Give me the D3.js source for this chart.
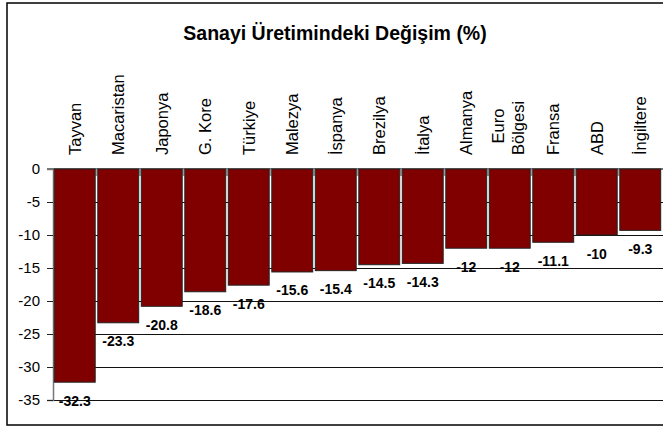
<!DOCTYPE html>
<html><head><meta charset="utf-8">
<script src="https://cdn.jsdelivr.net/npm/d3@7/dist/d3.min.js"></script>
<style>html,body{margin:0;padding:0;background:#fff;}svg{display:block;}</style>
</head><body>
<script>
const categories = ["Tayvan","Macaristan","Japonya","G. Kore","Türkiye","Malezya","İspanya","Brezilya","İtalya","Almanya","Euro Bölgesi","Fransa","ABD","İngiltere"];
const values = [-32.3,-23.3,-20.8,-18.6,-17.6,-15.6,-15.4,-14.5,-14.3,-12,-12,-11.1,-10,-9.3];
const yTicks = [0,-5,-10,-15,-20,-25,-30,-35];
const title = "Sanayi Üretimindeki Değişim (%)";

const W = 663, H = 427;
const svg = d3.select("body").append("svg").attr("width", W).attr("height", H);
const font = "'Liberation Sans', Arial, sans-serif";

svg.append("rect").attr("x", 7).attr("y", 3).attr("width", 670).attr("height", 422)
  .attr("fill", "#fff").attr("stroke", "#000").attr("stroke-width", 1.5);

svg.append("text").attr("x", 335).attr("y", 40).attr("text-anchor", "middle")
  .attr("font-family", font).attr("font-weight", "bold").attr("font-size", 19.5)
  .attr("fill", "#000").text(title);

const x = d3.scaleBand().domain(categories).range([53, 662]).paddingInner(0.06).paddingOuter(0.03);
const y = d3.scaleLinear().domain([-35, 0]).range([400, 169]);

// gridlines
svg.append("g").selectAll("line").data(yTicks.filter(d => d !== 0)).join("line")
  .attr("x1", 53).attr("x2", 663).attr("y1", d => y(d)).attr("y2", d => y(d))
  .attr("stroke", "#111").attr("stroke-width", 1).attr("shape-rendering", "crispEdges");

// y axis
const yAxis = d3.axisLeft(y).tickValues(yTicks).tickSize(6).tickPadding(7).tickFormat(d => String(d));
const ga = svg.append("g").attr("transform", "translate(53,0)").call(yAxis);
ga.select(".domain").attr("stroke", "#777").attr("stroke-width", 1.5);
ga.selectAll(".tick line").attr("stroke", "#222");
ga.selectAll(".tick text").attr("font-family", font).attr("font-size", 15).attr("fill", "#000");

// zero line
svg.append("line").attr("x1", 47).attr("x2", 663).attr("y1", y(0)).attr("y2", y(0))
  .attr("stroke", "#777").attr("stroke-width", 2);

// category tick marks
svg.append("g").selectAll("line").data(categories.slice(1)).join("line")
  .attr("x1", d => x(d) - x.step() * x.paddingInner() / 2)
  .attr("x2", d => x(d) - x.step() * x.paddingInner() / 2)
  .attr("y1", y(0)).attr("y2", y(0) + 7)
  .attr("stroke", "#999").attr("stroke-width", 2);

// bars
svg.append("g").selectAll("rect").data(values).join("rect")
  .attr("x", (d, i) => x(categories[i]))
  .attr("y", y(0))
  .attr("width", x.bandwidth())
  .attr("height", d => y(d) - y(0))
  .attr("fill", "#800000").attr("stroke", "#222").attr("stroke-width", 1);

// data labels
svg.append("g").selectAll("text").data(values).join("text")
  .attr("x", (d, i) => x(categories[i]) + x.bandwidth() / 2)
  .attr("y", d => y(d) + 23.5)
  .attr("text-anchor", "middle")
  .attr("font-family", font).attr("font-weight", "bold").attr("font-size", 14)
  .attr("fill", "#000").text(d => String(d));

// category labels (rotated)
const cl = svg.append("g");
categories.forEach((c, i) => {
  const cx = x(c) + x.bandwidth() / 2;
  const parts = c.split(" ");
  if (c === "Euro Bölgesi") {
    cl.append("text").attr("transform", `translate(${cx - 12},126) rotate(-90)`)
      .attr("text-anchor", "middle").attr("dy", "0.35em")
      .attr("font-family", font).attr("font-size", 16.5).attr("fill", "#000").text(parts[0]);
    cl.append("text").attr("transform", `translate(${cx + 8},155) rotate(-90)`)
      .attr("text-anchor", "start").attr("dy", "0.35em")
      .attr("font-family", font).attr("font-size", 16.5).attr("fill", "#000").text(parts[1]);
  } else {
    cl.append("text").attr("transform", `translate(${cx},155) rotate(-90)`)
      .attr("text-anchor", "start").attr("dy", "0.35em")
      .attr("font-family", font).attr("font-size", 16.5).attr("fill", "#000").text(c);
  }
});
</script>
</body></html>
